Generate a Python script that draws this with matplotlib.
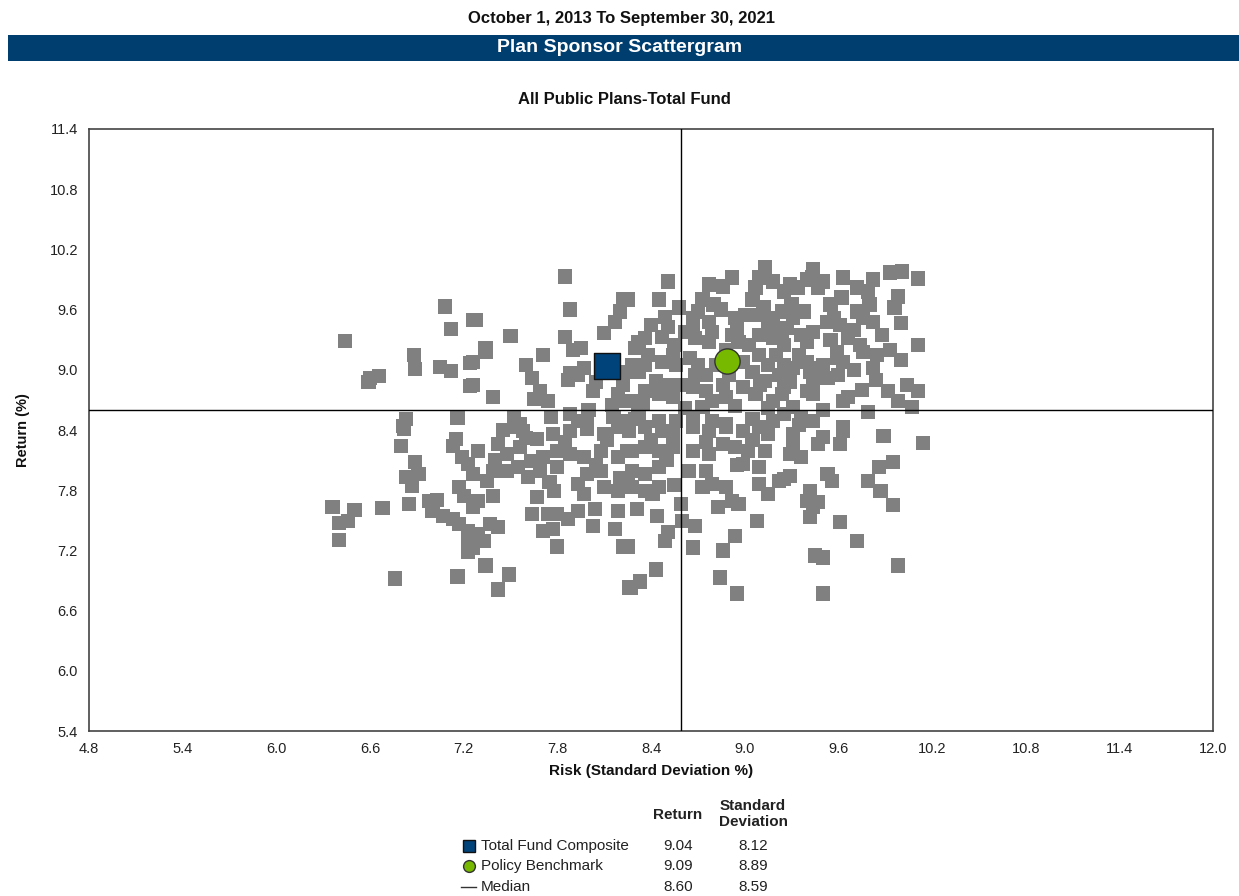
import matplotlib
matplotlib.use("Agg")
import matplotlib.pyplot as plt
from matplotlib.lines import Line2D
from matplotlib.patches import Rectangle
import numpy as np

plt.rcParams['font.family'] = ['Liberation Sans', 'DejaVu Sans']

# ---------------- data ----------------
period_title = "October 1, 2013 To September 30, 2021"
banner_title = "Plan Sponsor Scattergram"
universe_title = "All Public Plans-Total Fund"

x_ticks = [4.8, 5.4, 6.0, 6.6, 7.2, 7.8, 8.4, 9.0, 9.6, 10.2, 10.8, 11.4, 12.0]
y_ticks = [5.4, 6.0, 6.6, 7.2, 7.8, 8.4, 9.0, 9.6, 10.2, 10.8, 11.4]

# universe risk (std dev %) values
universe_risk = [
    7.08, 7.12, 7.26, 6.44, 6.88, 6.89, 7.05, 7.12, 6.60, 6.66, 6.59, 7.24, 7.24, 6.83, 6.81, 7.16,
    7.85, 7.88, 7.28, 7.50, 7.85, 7.34, 7.34, 7.26, 7.71, 7.90, 7.95, 7.88, 7.87, 7.93, 7.97, 7.64,
    7.26, 7.39, 7.69, 7.65, 7.74, 8.03, 8.10, 8.17, 8.20, 8.22, 8.22, 8.19, 8.22, 8.25, 7.52, 7.56,
    7.76, 7.88, 7.93, 7.99, 8.16, 8.22,
    8.51, 8.77, 8.86, 8.92, 9.13, 9.09, 9.07, 9.18, 8.25, 8.73, 8.80, 8.70, 8.49, 8.51, 8.47, 8.67,
    8.67, 8.68, 8.77, 8.79, 8.77, 8.94, 9.00, 9.09, 9.18, 9.24, 8.92, 8.96, 9.09, 9.18, 9.24, 8.32,
    8.36, 8.30, 8.54, 8.47, 8.56, 8.36, 8.32, 8.28, 8.65, 8.70, 8.68, 8.75, 8.99, 9.05, 9.15, 9.22,
    9.09, 9.20, 8.43, 8.51, 8.36, 8.45, 8.54, 8.67, 8.75, 8.86, 8.88, 8.79, 8.99, 9.07, 9.13, 9.18,
    9.24, 8.28, 8.35, 8.73, 8.94, 8.30, 8.45, 8.56, 8.67, 8.79, 8.88, 9.05, 9.18,
    9.44, 9.43, 9.50, 9.47, 9.63, 9.72, 9.79, 9.82, 9.93, 10.01, 10.11, 9.98, 9.96, 10.00, 9.29, 9.34,
    9.25, 9.55, 9.57, 9.53, 9.61, 9.72, 9.76, 9.82, 9.38, 9.31, 9.27, 9.36, 9.40, 9.44, 9.66, 9.59,
    9.74, 9.76, 9.59, 9.63, 9.93, 10.11, 9.82, 9.84, 9.25, 9.31, 9.40, 9.42, 9.47, 9.53, 9.44, 9.40,
    9.29, 9.25, 9.44, 9.92, 9.98, 10.04, 10.11, 10.07, 9.63, 9.66, 9.79, 9.31, 9.36, 9.44, 9.25, 9.63,
    6.36, 6.50, 6.46, 6.40, 6.40, 6.68, 6.85, 6.82, 6.80, 6.89, 6.91, 6.83, 6.87, 6.98, 7.03, 7.00,
    7.07, 7.13, 7.17, 7.23, 7.23, 7.23, 6.76, 7.16, 7.13, 7.15, 7.19, 7.23, 7.17, 7.20, 7.26,
    7.52, 7.58, 7.67, 7.77, 7.88, 7.99, 8.10, 8.19, 7.29, 7.42, 7.48, 7.56, 7.63, 7.71, 7.80, 7.88,
    7.97, 8.08, 8.19, 8.25, 7.26, 7.35, 7.39, 7.48, 7.55, 7.61, 7.69, 7.80, 7.93, 7.99, 8.08, 8.10,
    8.19, 8.25, 7.29, 7.39, 7.26, 7.67, 7.78, 7.97, 7.64, 7.74, 7.80, 7.87, 7.93, 8.04, 8.19, 7.71,
    7.77, 8.03, 8.17, 7.37, 7.42, 7.29, 7.33, 7.26, 7.80, 8.22, 7.34, 7.49, 7.42, 8.26,
    8.26, 8.36, 8.47, 8.54, 8.67, 8.77, 8.88, 8.99, 9.09, 9.15, 8.28, 8.36, 8.45, 8.54, 8.67, 8.77,
    8.86, 8.94, 9.02, 9.13, 8.64, 8.28, 8.36, 8.45, 8.75, 8.79, 8.73, 8.88, 8.92, 8.96, 8.83, 8.99,
    9.09, 9.09, 9.15, 9.22, 8.28, 8.36, 8.45, 8.41, 8.31, 8.44, 8.59, 8.60, 8.68, 8.51, 8.49, 8.67,
    8.94, 8.86, 9.08, 8.25, 8.43, 8.33, 8.27, 8.84, 8.95,
    9.89, 10.14, 9.95, 9.86, 9.79, 9.87, 9.95, 9.61, 9.72, 9.45, 9.50, 9.98, 9.50, 9.31, 9.31, 9.36,
    9.29, 9.50, 9.47, 9.63, 9.61, 9.29, 9.25, 9.53, 9.56, 9.42, 9.40, 9.44, 9.47, 9.42,
    8.40, 8.58, 8.62, 8.85, 8.88, 8.95, 9.05, 9.12, 9.15, 9.25, 9.03, 8.82, 8.60, 8.62, 8.90, 9.10,
    9.30, 9.35, 9.50, 9.55, 9.70, 9.80, 9.88, 9.60, 9.75, 9.50, 9.35, 9.15, 8.00, 8.12, 8.32, 8.40,
    8.05, 7.85, 7.60, 7.45, 7.40, 8.50, 8.75, 8.95, 9.05, 8.20, 7.75, 8.55, 8.15, 8.45, 8.55, 8.38,
    8.15, 7.60, 8.05, 9.70, 9.85, 10.00, 9.62, 9.40,
]

# universe return (%) values
universe_return = [
    9.63, 9.41, 9.50, 9.29, 9.15, 9.01, 9.03, 8.99, 8.92, 8.94, 8.88, 9.07, 8.84, 8.51, 8.44, 8.52,
    9.93, 9.60, 9.50, 9.34, 9.33, 9.22, 9.18, 9.08, 9.15, 9.20, 9.22, 8.97, 8.90, 8.95, 9.02, 8.92,
    8.85, 8.73, 8.79, 8.71, 8.69, 8.79, 9.37, 9.48, 9.58, 9.70, 8.85, 8.76, 8.69, 8.98, 8.53, 8.46,
    8.53, 8.56, 8.49, 8.46, 8.53, 8.49,
    9.88, 9.85, 9.83, 9.92, 10.02, 9.92, 9.82, 9.88, 9.70, 9.70, 9.65, 9.58, 9.53, 9.43, 9.33, 9.52,
    9.42, 9.32, 9.48, 9.38, 9.28, 9.52, 9.55, 9.55, 9.52, 9.58, 9.35, 9.28, 9.35, 9.32, 9.38, 9.28,
    9.32, 9.22, 9.15, 9.08, 9.05, 9.05, 8.98, 9.05, 9.12, 9.05, 8.95, 8.95, 9.08, 8.98, 9.05, 8.95,
    9.15, 9.15, 8.89, 8.85, 8.79, 8.76, 8.73, 8.83, 8.79, 8.85, 8.73, 8.69, 8.83, 8.76, 8.89, 8.69,
    8.76, 8.69, 8.66, 8.63, 8.64, 8.51, 8.49, 8.49, 8.53, 8.49, 8.46, 8.51, 8.49,
    10.00, 9.92, 9.88, 9.82, 9.92, 9.82, 9.78, 9.90, 9.97, 9.98, 9.91, 9.73, 9.62, 9.47, 9.85, 9.82,
    9.78, 9.65, 9.52, 9.48, 9.45, 9.58, 9.52, 9.48, 9.58, 9.52, 9.42, 9.35, 9.28, 9.38, 9.32, 9.18,
    9.25, 9.18, 9.12, 9.08, 9.20, 9.25, 9.02, 8.90, 9.05, 9.02, 9.08, 8.98, 9.02, 8.92, 8.88, 8.79,
    8.88, 8.83, 8.76, 8.79, 8.69, 8.85, 8.79, 8.63, 8.69, 8.73, 8.58, 8.63, 8.53, 8.49, 8.56, 8.43,
    7.63, 7.60, 7.49, 7.47, 7.30, 7.62, 7.66, 8.41, 8.24, 8.08, 7.96, 7.93, 7.84, 7.69, 7.70, 7.59,
    7.54, 7.51, 7.46, 7.39, 7.26, 7.19, 6.92, 6.94, 8.24, 8.31, 8.13, 8.06, 7.83, 7.74, 7.64,
    8.43, 8.39, 8.31, 8.36, 8.39, 8.41, 8.36, 8.43, 8.19, 8.26, 8.16, 8.23, 8.09, 8.13, 8.19, 8.16,
    8.13, 8.19, 8.13, 8.19, 7.96, 7.89, 7.99, 7.99, 8.03, 7.93, 7.99, 8.03, 7.86, 7.96, 7.99, 7.83,
    7.79, 7.86, 7.69, 7.74, 7.63, 7.73, 7.79, 7.76, 7.56, 7.56, 7.56, 7.51, 7.59, 7.61, 7.59, 7.39,
    7.41, 7.44, 7.41, 7.46, 7.43, 7.36, 7.29, 7.23, 7.24, 7.24, 7.05, 6.96, 6.81, 6.83,
    8.39, 8.43, 8.39, 8.36, 8.43, 8.39, 8.43, 8.39, 8.43, 8.36, 8.19, 8.23, 8.19, 8.23, 8.19, 8.16,
    8.26, 8.23, 8.19, 8.19, 7.99, 7.99, 7.96, 8.03, 7.99, 7.86, 7.83, 7.83, 7.69, 7.66, 7.63, 8.06,
    8.03, 7.86, 7.76, 7.89, 7.83, 7.79, 7.83, 7.76, 7.61, 7.54, 7.66, 7.49, 7.44, 7.38, 7.29, 7.23,
    7.34, 7.20, 7.49, 7.24, 7.01, 6.89, 6.83, 6.93, 6.77,
    8.34, 8.27, 8.08, 8.03, 7.89, 7.79, 7.65, 7.48, 7.29, 7.15, 7.13, 7.05, 6.77, 8.36, 8.26, 8.13,
    8.16, 8.33, 8.26, 8.39, 8.26, 7.94, 7.91, 7.96, 7.89, 7.79, 7.69, 7.63, 7.68, 7.53,
    9.45, 9.62, 9.38, 9.60, 9.20, 9.42, 9.70, 9.62, 9.42, 9.25, 9.25, 9.05, 8.85, 8.62, 8.95, 8.85,
    9.65, 9.15, 9.05, 9.30, 9.40, 9.65, 9.35, 8.95, 8.80, 8.60, 8.45, 8.62, 8.60, 8.30, 8.55, 8.30,
    8.05, 8.28, 8.32, 8.40, 8.10, 8.10, 8.28, 8.05, 8.30, 7.92, 7.88, 7.85, 8.65, 9.70, 9.25, 9.15,
    9.10, 9.05, 8.88, 9.00, 9.15, 9.10, 9.72, 9.90,
]

fund_names = ["Total Fund Composite", "Policy Benchmark", "Median"]
fund_return = [9.04, 9.09, 8.60]
fund_std = [8.12, 8.89, 8.59]

# ---------------- figure ----------------
W, H = 1239, 896
fig = plt.figure(figsize=(W / 100, H / 100), dpi=100)

navy = "#003e70"
green = "#76b900"
gray = "#808080"
txt = "#222222"

# header texts
fig.text(622 / W, 1 - 18 / H, period_title, ha="center", va="center",
         fontsize=12, fontweight="bold", color="#111111")
fig.patches.append(Rectangle((8 / W, 1 - 61 / H), (W - 8) / W, 26 / H,
                             transform=fig.transFigure, facecolor=navy,
                             edgecolor="none"))
fig.text(620 / W, 1 - 47.5 / H, banner_title, ha="center", va="center",
         fontsize=14, fontweight="bold", color="white")
fig.text(624 / W, 1 - 99 / H, universe_title, ha="center", va="center",
         fontsize=12, fontweight="bold", color="#111111")

# axes
ax = fig.add_axes([89 / W, 1 - 731 / H, (1213 - 89) / W, (731 - 129) / H])
ax.set_xlim(x_ticks[0], x_ticks[-1])
ax.set_ylim(y_ticks[0], y_ticks[-1])
ax.set_xticks(x_ticks)
ax.set_yticks(y_ticks)
ax.set_xticklabels([f"{v:.1f}" for v in x_ticks], fontsize=10.5, color=txt)
ax.set_yticklabels([f"{v:.1f}" for v in y_ticks], fontsize=10.5, color=txt)
ax.tick_params(length=0, pad=8)
for s in ax.spines.values():
    s.set_color("#444444")
    s.set_linewidth(1.2)

ax.scatter(universe_risk, universe_return, marker="s", s=105, color=gray,
           edgecolors="none", zorder=2)

ax.axvline(fund_std[2], color="black", lw=1.0, zorder=3)
ax.axhline(fund_return[2], color="black", lw=1.0, zorder=3)

ax.scatter([fund_std[0]], [fund_return[0]], marker="s", s=330, color="#00427a",
           edgecolors="#111111", linewidths=1.0, zorder=5)
ax.scatter([fund_std[1]], [fund_return[1]], marker="o", s=330, color=green,
           edgecolors="#333333", linewidths=1.0, zorder=5)

ax.set_xlabel("Risk (Standard Deviation %)", fontsize=11, fontweight="bold",
              color="#111111", labelpad=6)
ax.set_ylabel("Return (%)", fontsize=10.5, fontweight="bold", color="#111111",
              labelpad=14)

# legend table
fig.text(678 / W, 1 - 815 / H, "Return", ha="center", va="center",
         fontsize=11, fontweight="bold", color="#222222")
fig.text(753 / W, 1 - 814 / H, "Standard\nDeviation", ha="center", va="center",
         fontsize=11, fontweight="bold", color="#222222", linespacing=1.25)
row_y = [846, 866, 887]
for i, name in enumerate(fund_names):
    yy = 1 - row_y[i] / H
    if i == 0:
        fig.add_artist(Line2D([469 / W], [yy], marker="s", markersize=8,
                              color="#00427a", markeredgecolor="#111111",
                              transform=fig.transFigure))
    elif i == 1:
        fig.add_artist(Line2D([469 / W], [yy], marker="o", markersize=8.5,
                              color=green, markeredgecolor="#333333",
                              transform=fig.transFigure))
    else:
        fig.add_artist(Line2D([461 / W, 476 / W], [yy, yy], color="#333333",
                              lw=1.0, transform=fig.transFigure))
    fig.text(481 / W, yy, name, ha="left", va="center", fontsize=11,
             color="#222222")
    fig.text(678 / W, yy, f"{fund_return[i]:.2f}", ha="center", va="center",
             fontsize=11, color="#222222")
    fig.text(753 / W, yy, f"{fund_std[i]:.2f}", ha="center", va="center",
             fontsize=11, color="#222222")

fig.savefig("out.png", dpi=100, facecolor="white")
